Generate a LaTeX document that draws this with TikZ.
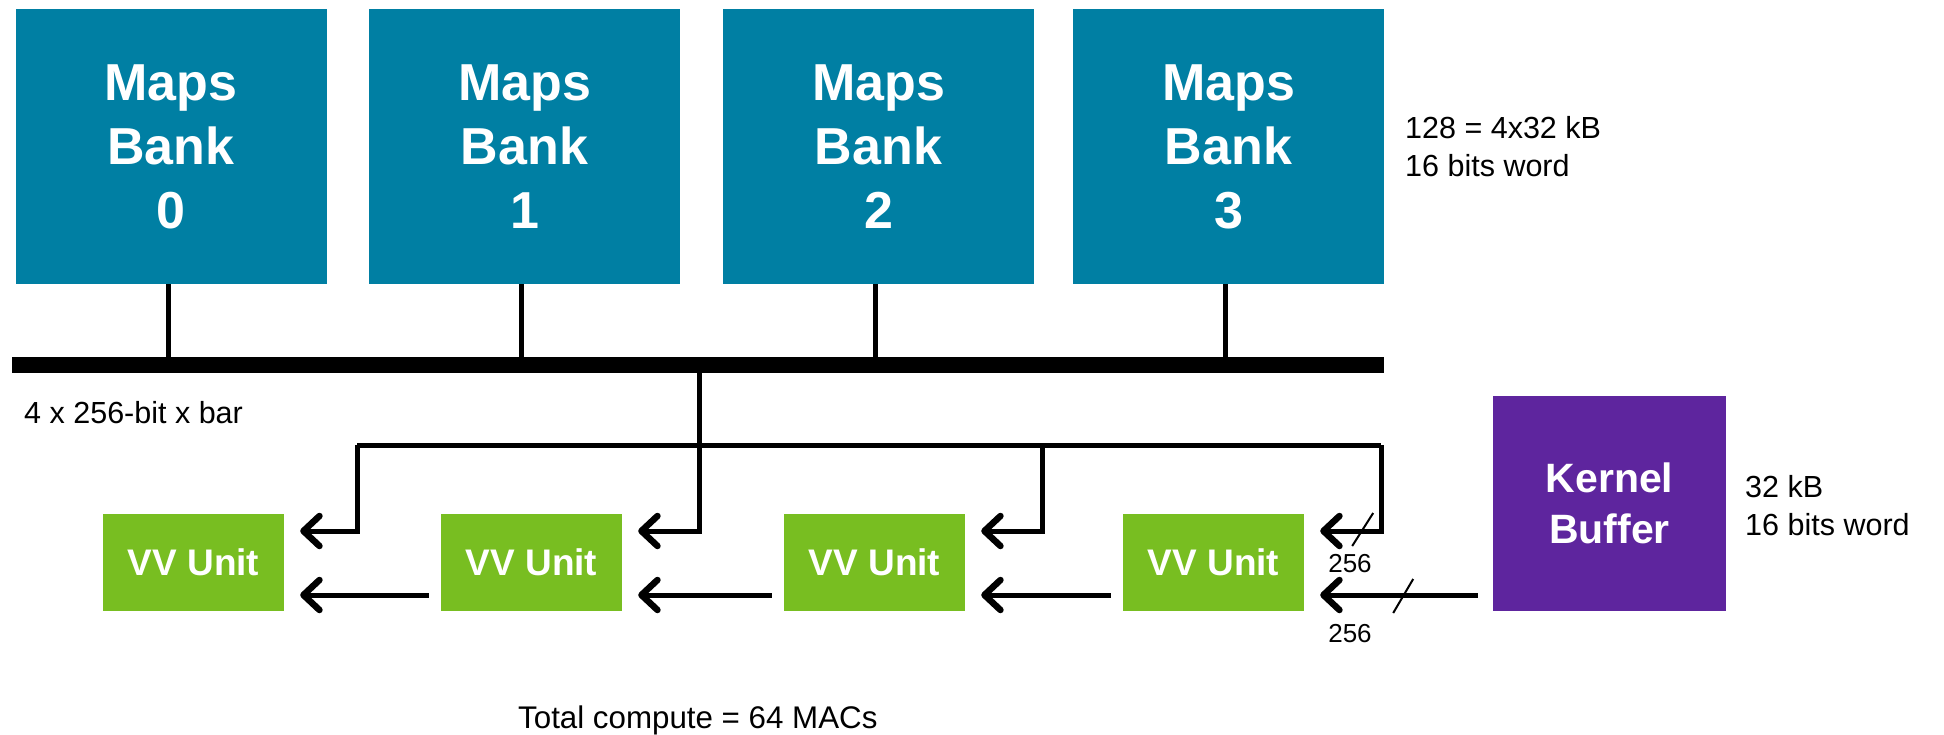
\documentclass[tikz,border=0pt]{standalone}
\usepackage{fontspec}
\setmainfont{Liberation Sans}
\usetikzlibrary{arrows.meta,calc}
\definecolor{bankblue}{HTML}{007FA3}
\definecolor{vvgreen}{HTML}{78BE21}
\definecolor{kernpurple}{HTML}{5E259E}
\begin{document}
\begin{tikzpicture}[x=1pt,y=-1pt,
  bankbox/.style={rectangle, fill=bankblue, minimum width=311pt, minimum height=275pt,
    inner sep=0pt, text=white, align=center, font=\fontsize{52}{64}\selectfont\bfseries},
  vvbox/.style={rectangle, fill=vvgreen, minimum width=181pt, minimum height=97pt,
    inner sep=0pt, text=white, font=\fontsize{37}{44}\selectfont\bfseries},
  kbox/.style={rectangle, fill=kernpurple, minimum width=233pt, minimum height=215pt,
    inner sep=0pt, text=white, align=center, font=\fontsize{41}{51}\selectfont\bfseries},
  notetext/.style={inner sep=0pt, align=left, font=\fontsize{30.5}{38}\selectfont},
  buslabel/.style={inner sep=0pt, font=\fontsize{26}{31}\selectfont},
  stem/.style={line width=5pt},
  wire/.style={line width=5pt, line join=miter},
  feed/.style={wire, -{Straight Barb[length=16pt,width=30pt,line width=6.5pt,round]}},
  slash/.style={line width=2pt}]
\useasboundingbox (0,0) rectangle (1944,735);

% memory banks
\node[bankbox] (b0) at (171,146.5)  {Maps\\Bank\\0};
\node[bankbox] (b1) at (524.5,146.5) {Maps\\Bank\\1};
\node[bankbox] (b2) at (878.5,146.5) {Maps\\Bank\\2};
\node[bankbox] (b3) at (1228.5,146.5) {Maps\\Bank\\3};

% crossbar
\node[rectangle, fill=black, minimum width=1372pt, minimum height=16pt, inner sep=0pt] (bus) at (698,365) {};
\foreach \b in {b0,b1,b2,b3}
  \draw[stem] ([xshift=-3pt]\b.south) -- ([xshift=-3pt]\b.south |- bus.north);

% vector units and kernel buffer
\node[vvbox] (vv1) at (193.5,562.5) {VV Unit};
\node[vvbox] (vv2) at (531.5,562.5) {VV Unit};
\node[vvbox] (vv3) at (874.5,562.5) {VV Unit};
\node[vvbox] (vv4) at (1213.5,562.5) {VV Unit};
\node[kbox] (kb) at (1609.5,503.5) {Kernel\\Buffer};

% arrow ends
\foreach \i in {1,2,3,4} {
  \coordinate (t\i) at ($(vv\i.east)+(16,-31.5)$);
  \coordinate (s\i) at ($(vv\i.east)+(16,32.5)$);
}

% map distribution
\coordinate (dl) at (357,445);
\coordinate (tap) at (699,445);
\coordinate (dm) at (1042,445);
\coordinate (dr) at (1381,445);
\draw[wire] (dl) -- (dr);
\draw[feed] (dl) |- (t1);
\draw[feed] (bus.south -| tap) |- (t2);
\draw[feed] (dm) |- (t3);
\draw[feed] (dr) |- (t4);

% kernel chain
\draw[feed] ([xshift=-12pt]vv2.west |- s1) -- (s1);
\draw[feed] ([xshift=-12pt]vv3.west |- s2) -- (s2);
\draw[feed] ([xshift=-12pt]vv4.west |- s3) -- (s3);
\draw[feed] ([xshift=-15pt]kb.west |- s4) -- (s4);

% bus width marks
\draw[slash] ($(t4)+(32,15)$) -- ($(t4)+(53,-18)$);
\draw[slash] ($(s4)+(73,18)$) -- ($(s4)+(93,-16)$);
\node[buslabel, anchor=base] at (1350,572) {256};
\node[buslabel, anchor=base] at (1350,642) {256};

% annotations
\node[notetext, anchor=north west] at (1405,116) {128 = 4x32 kB\\16 bits word};
\node[notetext, anchor=north west] at (1745,475) {32 kB\\16 bits word};
\node[notetext, anchor=base west] at (24,423) {4 x 256-bit x bar};
\node[notetext, anchor=base west, font=\fontsize{31.3}{38}\selectfont] at (518,728) {Total compute = 64 MACs};
\end{tikzpicture}
\end{document}
